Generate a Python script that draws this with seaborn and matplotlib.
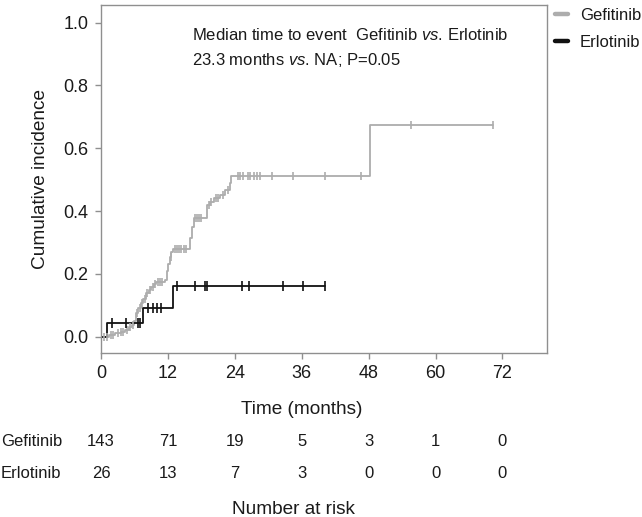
import numpy as np
import pandas as pd
import matplotlib
matplotlib.use("Agg")
import matplotlib.pyplot as plt
from matplotlib.lines import Line2D
from matplotlib.transforms import blended_transform_factory
import seaborn as sns

# ---------------- data ----------------
groups = ["Gefitinib", "Erlotinib"]

gef_time = [0, 1.5, 2.5, 3.5, 4.3, 5.0, 5.5, 6.0, 6.3, 6.7, 7.2, 7.6, 8.1, 8.6, 9.0,
            9.5, 9.9, 11.4, 11.8, 12.0, 12.3, 12.6, 12.9, 16.0, 16.3, 16.6, 19.0,
            19.6, 20.2, 21.4, 22.3, 23.2, 23.4, 48.2, 70.4]
gef_value = [0, 0.005, 0.011, 0.016, 0.021, 0.03, 0.037, 0.05, 0.074, 0.09, 0.106, 0.12,
             0.138, 0.15, 0.159, 0.168, 0.175, 0.18, 0.21, 0.23, 0.255, 0.27, 0.28,
             0.313, 0.35, 0.377, 0.419, 0.43, 0.441, 0.451, 0.467, 0.489, 0.512,
             0.674, 0.674]
gef_censor = [0.5, 1.0, 1.8, 2.2, 3.0, 3.6, 4.0, 4.6, 5.2, 5.8, 6.5, 7.0, 7.4, 7.9, 8.3,
              8.8, 9.3, 9.7, 10.2, 10.6, 11.0, 12.5, 13.2, 13.6, 14.0, 14.4, 14.8,
              15.2, 16.8, 17.2, 17.6, 18.0, 19.4, 19.8, 20.6, 21.0, 21.8, 22.7, 24.5,
              25.0, 25.4, 26.3, 26.8, 27.4, 28.0, 28.6, 30.7, 34.4, 40.1, 46.6, 55.6,
              70.4]

erl_time = [0, 1.1, 7.6, 12.9, 40.1]
erl_value = [0, 0.043, 0.092, 0.162, 0.162]
erl_censor = [1.9, 4.5, 6.7, 7.0, 8.5, 9.4, 10.0, 10.8, 13.7, 16.8, 18.7, 19.0,
              25.3, 26.5, 32.7, 36.3, 40.1]

risk_times = [0, 12, 24, 36, 48, 60, 72]
risk_gef = [143, 71, 19, 5, 3, 1, 0]
risk_erl = [26, 13, 7, 3, 0, 0, 0]

x_ticks = [0, 12, 24, 36, 48, 60, 72]
y_ticks = [0.0, 0.2, 0.4, 0.6, 0.8, 1.0]

colors = {"Gefitinib": "#adadad", "Erlotinib": "#111111"}

# ---------------- style ----------------
sns.set_style("ticks")
plt.rcParams["font.family"] = ["Liberation Sans", "DejaVu Sans"]
plt.rcParams["mathtext.fontset"] = "custom"
plt.rcParams["mathtext.rm"] = "Liberation Sans"
plt.rcParams["mathtext.it"] = "Liberation Sans:italic"
txt_color = "#1a1a1a"
spine_color = "#8f8f8f"
FS = 12
FS_TICK = 13
FS_LAB = 13.7

W, H = 642, 517
fig = plt.figure(figsize=(W / 100, H / 100), dpi=100)
ax = fig.add_axes([101 / W, 1 - 353 / H, 446 / W, 348 / H])


def step_at(times, values, t):
    idx = np.searchsorted(np.asarray(times), t, side="right") - 1
    return np.asarray(values)[idx]


curves = pd.concat([
    pd.DataFrame({"time": gef_time, "value": gef_value, "group": "Gefitinib"}),
    pd.DataFrame({"time": erl_time, "value": erl_value, "group": "Erlotinib"}),
])
cens = pd.concat([
    pd.DataFrame({"time": gef_censor,
                  "value": step_at(gef_time, gef_value, gef_censor),
                  "group": "Gefitinib"}),
    pd.DataFrame({"time": erl_censor,
                  "value": step_at(erl_time, erl_value, erl_censor),
                  "group": "Erlotinib"}),
])

for g, ms in zip(groups, [30, 45]):
    d = curves[curves.group == g]
    sns.lineplot(data=d, x="time", y="value", ax=ax, color=colors[g],
                 drawstyle="steps-post", estimator=None, sort=False,
                 linewidth=1.3, legend=False)
    c = cens[cens.group == g]
    sns.scatterplot(data=c, x="time", y="value", ax=ax, color=colors[g],
                    marker="|", s=ms, linewidth=1.2, legend=False, zorder=3)

ax.set_xlim(0, 80)
ax.set_ylim(-0.052, 1.056)
ax.set_xticks(x_ticks)
ax.set_xticklabels([str(t) for t in x_ticks])
ax.set_yticks(y_ticks)
ax.set_yticklabels([f"{v:.1f}" for v in y_ticks])
ax.tick_params(direction="out", length=4, width=1, color=spine_color,
               labelsize=FS_TICK, labelcolor=txt_color, pad=5)
for s in ax.spines.values():
    s.set_visible(True)
    s.set_color(spine_color)
    s.set_linewidth(1.0)

ax.set_xlabel("")
ax.set_ylabel("Cumulative incidence", fontsize=FS_LAB, color=txt_color)
ax.yaxis.set_label_coords((49 - 101) / 446, 0.5)

# annotation
fig.text(192 / W, 1 - 35 / H,
         r"Median time to event  Gefitinib $\mathit{vs}$. Erlotinib",
         fontsize=FS, color=txt_color, va="center", ha="left")
fig.text(192 / W, 1 - 60 / H,
         r"23.3 months $\mathit{vs}$. NA; P=0.05",
         fontsize=FS, color=txt_color, va="center", ha="left")

# legend
handles = [Line2D([], [], color=colors[g], lw=3.2) for g in groups]
leg = fig.legend(handles, groups, loc="upper left",
                 bbox_to_anchor=(555 / W, 1 - 8 / H), frameon=False,
                 fontsize=FS, handlelength=0.8, handletextpad=0.7,
                 labelspacing=0.72, borderaxespad=0, borderpad=0)
for t in leg.get_texts():
    t.set_color(txt_color)

# x label
fig.text(302 / W, 1 - 410 / H, "Time (months)", fontsize=FS_LAB, color=txt_color,
         ha="center", va="center")

# number at risk table
tr = blended_transform_factory(ax.transData, fig.transFigure)
for row_y, name, vals in [(441.7, "Gefitinib", risk_gef), (473.3, "Erlotinib", risk_erl)]:
    fig.text(1 / W, 1 - row_y / H, name, fontsize=FS, color=txt_color,
             ha="left", va="center")
    for t, v in zip(risk_times, vals):
        ax.text(t, 1 - row_y / H, str(v), transform=tr, fontsize=FS,
                color=txt_color, ha="center", va="center", clip_on=False)

fig.text(293 / W, 1 - 509 / H, "Number at risk", fontsize=FS_LAB, color=txt_color,
         ha="center", va="center")

fig.savefig("out.png", dpi=100)
